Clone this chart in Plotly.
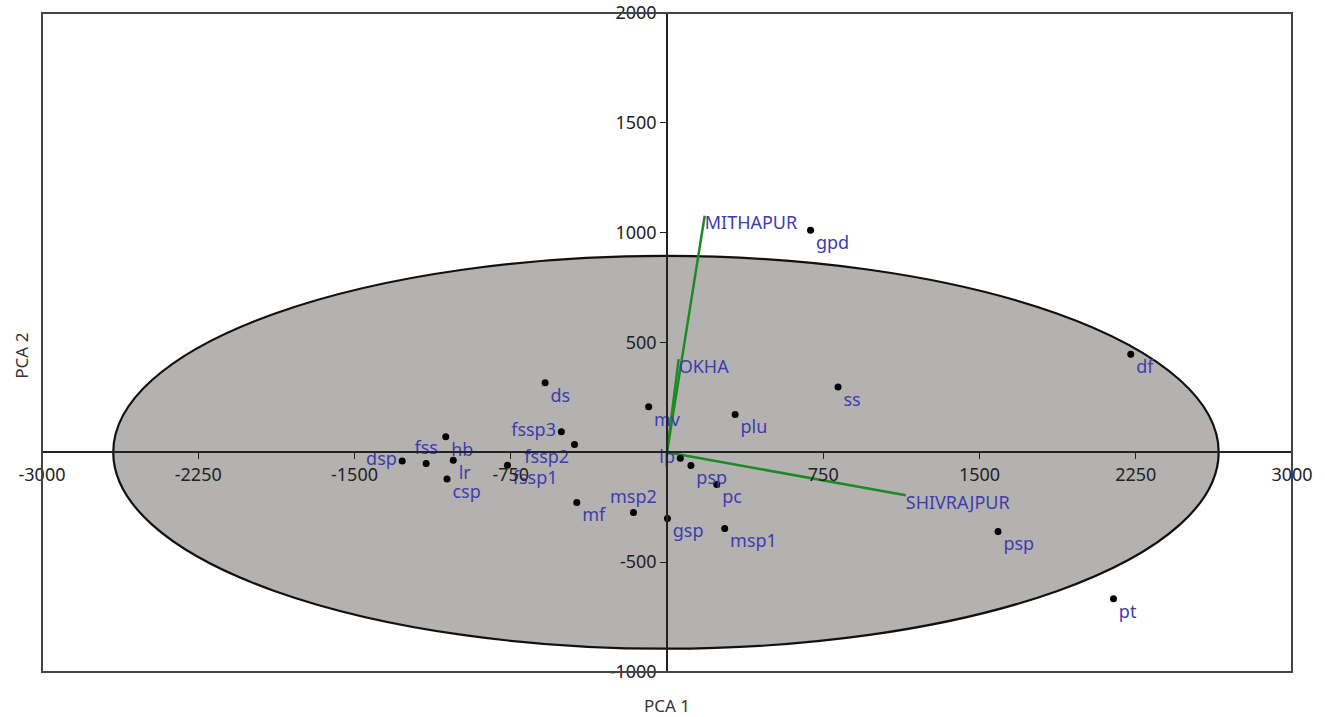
import plotly.graph_objects as go

# ---- data ----
sample_labels = ["gpd", "df", "ss", "plu", "mv", "lp", "psp", "pc", "gsp", "msp1",
                 "msp2", "psp", "pt", "ds", "fssp3", "fssp2", "hb", "fss", "dsp",
                 "lr", "csp", "fssp1", "mf"]
pca1 = [689, 2226, 821, 327, -88, 64, 115, 239, 2, 277,
        -161, 1589, 2143, -585, -507, -444, -1062, -1156, -1271,
        -1026, -1056, -766, -433]
pca2 = [1011, 446, 297, 172, 208, -27, -60, -146, -301, -347,
        -274, -360, -666, 317, 94, 36, 71, -51, -39,
        -36, -121, -59, -228]

site_names = ["MITHAPUR", "OKHA", "SHIVRAJPUR"]
load_pc1 = [181, 56, 1146]
load_pc2 = [1077, 424, -195]

x_ticks = [-3000, -2250, -1500, -750, 750, 1500, 2250, 3000]
x_tick_text = ["-3000", "-2250", "-1500", "-750", "750", "1500", "2250", "3000"]
y_ticks = [-1000, -500, 500, 1000, 1500, 2000]
y_tick_text = ["-1000", "-500", "500", "1000", "1500", "2000"]

# ellipse (95% region) centre and semi-axes
ell_cx, ell_cy = -5, 0
ell_rx, ell_ry = 2653, 894

# label placement (style, not data)
label_pos = ["bottom right", "bottom right", "bottom right", "bottom right", "bottom right",
             "middle left", "bottom right", "bottom right", "bottom right", "bottom right",
             "top center", "bottom right", "bottom right", "bottom right", "middle left",
             "bottom left", "bottom right", "top center", "middle left",
             "bottom right", "bottom right", "bottom right", "bottom right"]
site_pos = ["bottom right", "bottom right", "bottom right"]

BLUE = "#3d3daf"
GREEN = "#1e8a24"
FONT = "Noto Sans"

fig = go.Figure()

fig.add_shape(type="circle", xref="x", yref="y",
              x0=ell_cx - ell_rx, x1=ell_cx + ell_rx,
              y0=ell_cy - ell_ry, y1=ell_cy + ell_ry,
              fillcolor="#b4b2b0", line=dict(color="#111111", width=2.2),
              layer="below")

# loading vectors
for name, lx, ly in zip(site_names, load_pc1, load_pc2):
    fig.add_trace(go.Scatter(x=[0, lx], y=[0, ly], mode="lines",
                             line=dict(color=GREEN, width=2.5),
                             hoverinfo="skip", showlegend=False))
fig.add_trace(go.Scatter(x=load_pc1, y=load_pc2, mode="text", text=site_names,
                         textposition=site_pos,
                         textfont=dict(color=BLUE, size=18, family=FONT),
                         showlegend=False))

# samples
fig.add_trace(go.Scatter(x=pca1, y=pca2, mode="markers+text", text=sample_labels,
                         textposition=label_pos,
                         marker=dict(color="black", size=7),
                         textfont=dict(color=BLUE, size=18, family=FONT),
                         showlegend=False))

# frame
fig.add_shape(type="rect", xref="paper", yref="paper", x0=0, x1=1, y0=0, y1=1,
              line=dict(color="#444444", width=2), layer="above")

fig.add_annotation(text="PCA 1", xref="paper", yref="paper", x=0.5, y=0,
                   yanchor="top", yshift=-20, showarrow=False,
                   font=dict(size=17, color="#333333", family=FONT))
fig.add_annotation(text="PCA 2", xref="paper", yref="paper", x=0, y=0.48,
                   xanchor="center", xshift=-20, textangle=-90, showarrow=False,
                   font=dict(size=17, color="#333333", family=FONT))

fig.update_layout(
    width=1325, height=717,
    margin=dict(l=42, r=33, t=13, b=45, autoexpand=False),
    paper_bgcolor="white", plot_bgcolor="white",
    font=dict(family=FONT, size=18, color="#222222"),
    xaxis=dict(range=[-3000, 3000], tickvals=x_ticks, ticktext=x_tick_text,
               showgrid=False, zeroline=False, automargin=False,
               showline=True, linecolor="#222222", linewidth=1.5,
               ticks="outside", ticklen=6, tickcolor="#222222",
               anchor="free", position=1/3,
               tickfont=dict(size=18, color="#222222", family=FONT)),
    yaxis=dict(range=[-1000, 2000], tickvals=y_ticks, ticktext=y_tick_text,
               showgrid=False, zeroline=False, automargin=False,
               showline=True, linecolor="#222222", linewidth=1.5,
               ticks="outside", ticklen=6, tickcolor="#222222",
               anchor="free", position=0.5,
               tickfont=dict(size=18, color="#222222", family=FONT)),
)

fig.write_html("out.html", config={"displayModeBar": False},
               post_script="document.body.style.margin='0';document.body.style.overflow='hidden';")
